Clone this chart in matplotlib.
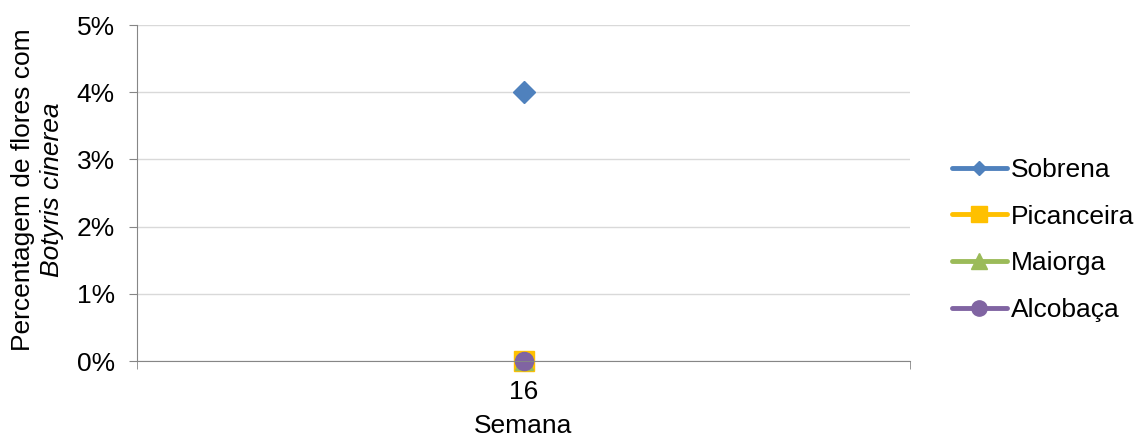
import matplotlib.pyplot as plt
from matplotlib.ticker import PercentFormatter

plt.rcParams['font.family'] = ['Liberation Sans', 'DejaVu Sans']

# Data
weeks = ["16"]
series_names = ["Sobrena", "Picanceira", "Maiorga", "Alcobaça"]
sobrena = [0.04]
picanceira = [0.0]
maiorga = [0.0]
alcobaca = [0.0]
colors = ["#4f81bd", "#ffc000", "#9bbb59", "#8064a2"]
markers = ["D", "s", "^", "o"]

fig = plt.figure(figsize=(11.35, 4.41), dpi=100)
ax = fig.add_axes([0.1207, 0.1814, 0.6811, 0.7619])

x = list(range(len(weeks)))
all_values = [sobrena, picanceira, maiorga, alcobaca]
sizes = [11, 15, 13, 13]
for name, vals, c, m, s in zip(series_names, all_values, colors, markers, sizes):
    ax.plot(x, vals, color=c, marker=m, markersize=s, linewidth=3,
            label=name, solid_capstyle='round', clip_on=False)

ax.set_xlim(-0.5, 0.5)
ax.set_ylim(0, 0.05)
ax.set_yticks([0, 0.01, 0.02, 0.03, 0.04, 0.05])
ax.yaxis.set_major_formatter(PercentFormatter(1.0, decimals=0))
ax.set_xticks(x)
ax.set_xticklabels(weeks)
ax.set_xticks([-0.5, 0.5], minor=True)

ax.grid(axis='y', color='#d9d9d9', linewidth=1)
ax.set_axisbelow(True)
for side in ['top', 'right']:
    ax.spines[side].set_visible(False)
for side in ['left', 'bottom']:
    ax.spines[side].set_color('#868686')
ax.tick_params(axis='y', colors='#868686', labelcolor='black', labelsize=19,
               length=6, pad=10)
ax.tick_params(axis='x', which='major', length=0, labelsize=19, pad=14)
ax.tick_params(axis='x', which='minor', length=6, colors='#868686')

ax.set_xlabel("Semana", fontsize=19, labelpad=7)

fig.text(0.020, 0.57, "Percentagem de flores com", rotation=90,
         ha='center', va='center', fontsize=19)
fig.text(0.046, 0.57, "Botyris cinerea", rotation=90, style='italic',
         ha='center', va='center', fontsize=19)

leg = ax.legend(loc='center left', bbox_to_anchor=(1.04, 0.36), frameon=False,
                fontsize=19, handlelength=2.1, labelspacing=0.86,
                handletextpad=0.15, borderaxespad=0)
legend_sizes = [7, 11, 11, 11]
for h, s in zip(leg.legend_handles, legend_sizes):
    h.set_markersize(s)
    h.set_linewidth(3.5)

fig.savefig("out.png", dpi=100)
